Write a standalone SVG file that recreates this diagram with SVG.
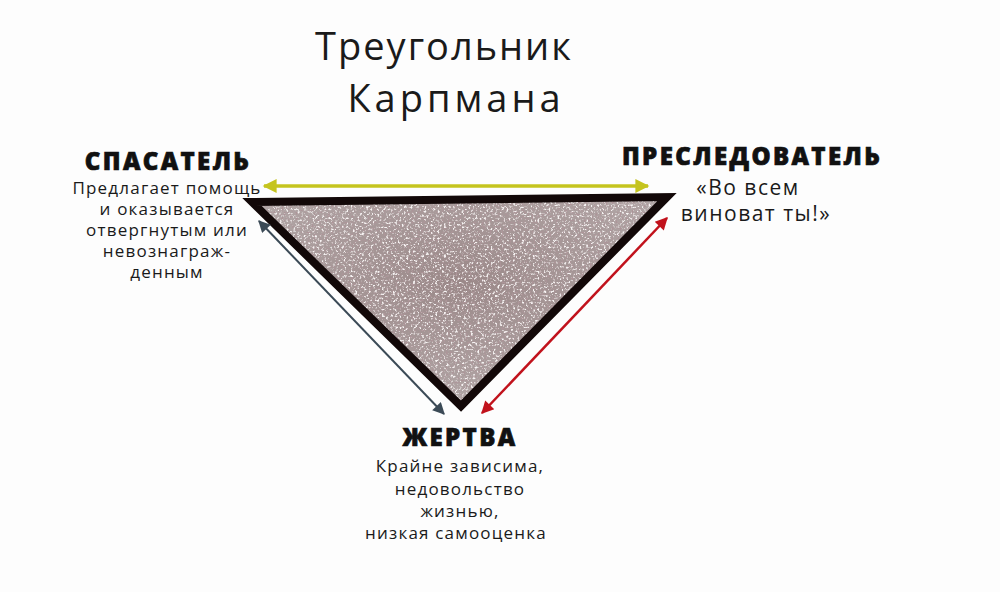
<svg xmlns="http://www.w3.org/2000/svg" width="1000" height="592" viewBox="0 0 1000 592">
<style>
.t{font-family:"Open Sans","Liberation Sans",sans-serif;fill:#1a1a1a;text-anchor:middle}
.title{font-size:38px;letter-spacing:2px}
.h{font-family:"Open Sans","Liberation Sans",sans-serif;font-weight:800;font-size:24px;letter-spacing:2.4px;fill:#111;stroke:#111;stroke-width:0.7px;text-anchor:middle}
.b{font-size:17px;letter-spacing:1.2px}
.b2{font-size:21px;letter-spacing:1.5px}
</style>
<defs>
<clipPath id="tri"><polygon points="252,202 667,197 461,406"/></clipPath>
<filter id="light" x="0" y="0" width="100%" height="100%">
<feTurbulence type="fractalNoise" baseFrequency="0.45" numOctaves="2" seed="7"/>
<feColorMatrix type="matrix" values="0 0 0 0 0.93  0 0 0 0 0.9  0 0 0 0 0.9  5 0 0 0 -2.7"/>
</filter>
<filter id="dark" x="0" y="0" width="100%" height="100%">
<feTurbulence type="fractalNoise" baseFrequency="0.5" numOctaves="2" seed="13"/>
<feColorMatrix type="matrix" values="0 0 0 0 0.42  0 0 0 0 0.3  0 0 0 0 0.32  5 0 0 0 -2.6"/>
</filter>
<radialGradient id="shade" cx="0.5" cy="0.4" r="0.6">
<stop offset="0" stop-color="#9a8888"/>
<stop offset="1" stop-color="#b3a8a8"/>
</radialGradient>
<marker id="ay" viewBox="0 0 10 10" refX="9" refY="5" markerWidth="5" markerHeight="4" orient="auto-start-reverse" markerUnits="strokeWidth"><path d="M0,0 L10,5 L0,10 Z" fill="#c5c41f"/></marker>
<marker id="ab" viewBox="0 0 10 10" refX="9" refY="5" markerWidth="7" markerHeight="6" orient="auto-start-reverse" markerUnits="strokeWidth"><path d="M0,0 L10,5 L0,10 Z" fill="#3b4a56"/></marker>
<marker id="ar" viewBox="0 0 10 10" refX="9" refY="5" markerWidth="6" markerHeight="5" orient="auto-start-reverse" markerUnits="strokeWidth"><path d="M0,0 L10,5 L0,10 Z" fill="#c1121c"/></marker>
</defs>
<rect width="1000" height="592" fill="#fdfdfd"/>
<g id="title">
<text class="t title" x="444" y="60">Треугольник</text>
<text class="t title" x="456" y="112" style="letter-spacing:4px">Карпмана</text>
</g>
<g id="triangle">
<g clip-path="url(#tri)">
<rect x="250" y="195" width="420" height="215" fill="url(#shade)"/>
<rect x="250" y="195" width="420" height="215" filter="url(#dark)"/>
<rect x="250" y="195" width="420" height="215" filter="url(#light)"/>
</g>
<polygon points="252,202 667,197 461,406" fill="none" stroke="#120808" stroke-width="8" stroke-linejoin="miter"/>
</g>
<g id="connectors">
<line x1="264" y1="186" x2="648" y2="186" stroke="#c5c41f" stroke-width="3.5" marker-start="url(#ay)" marker-end="url(#ay)"/>
<line x1="259" y1="221" x2="444" y2="414" stroke="#3b4a56" stroke-width="2" marker-start="url(#ab)" marker-end="url(#ab)"/>
<line x1="482" y1="413" x2="667" y2="218" stroke="#c1121c" stroke-width="2.5" marker-start="url(#ar)" marker-end="url(#ar)"/>
</g>
<g id="rescuer">
<text class="h" x="168" y="170">СПАСАТЕЛЬ</text>
<text class="t b" x="167" y="194">Предлагает помощь</text>
<text class="t b" x="167" y="215">и оказывается</text>
<text class="t b" x="167" y="236">отвергнутым или</text>
<text class="t b" x="167" y="257">невознаграж-</text>
<text class="t b" x="167" y="278">денным</text>
</g>
<g id="persecutor">
<text class="h" x="752" y="165">ПРЕСЛЕДОВАТЕЛЬ</text>
<text class="t b2" x="748" y="195">«Во всем</text>
<text class="t b2" x="756" y="221">виноват ты!»</text>
</g>
<g id="victim">
<text class="h" x="460" y="446">ЖЕРТВА</text>
<text class="t b" x="460" y="472">Крайне зависима,</text>
<text class="t b" x="460" y="495">недовольство</text>
<text class="t b" x="460" y="517">жизнью,</text>
<text class="t b" x="456" y="539">низкая самооценка</text>
</g>
</svg>
